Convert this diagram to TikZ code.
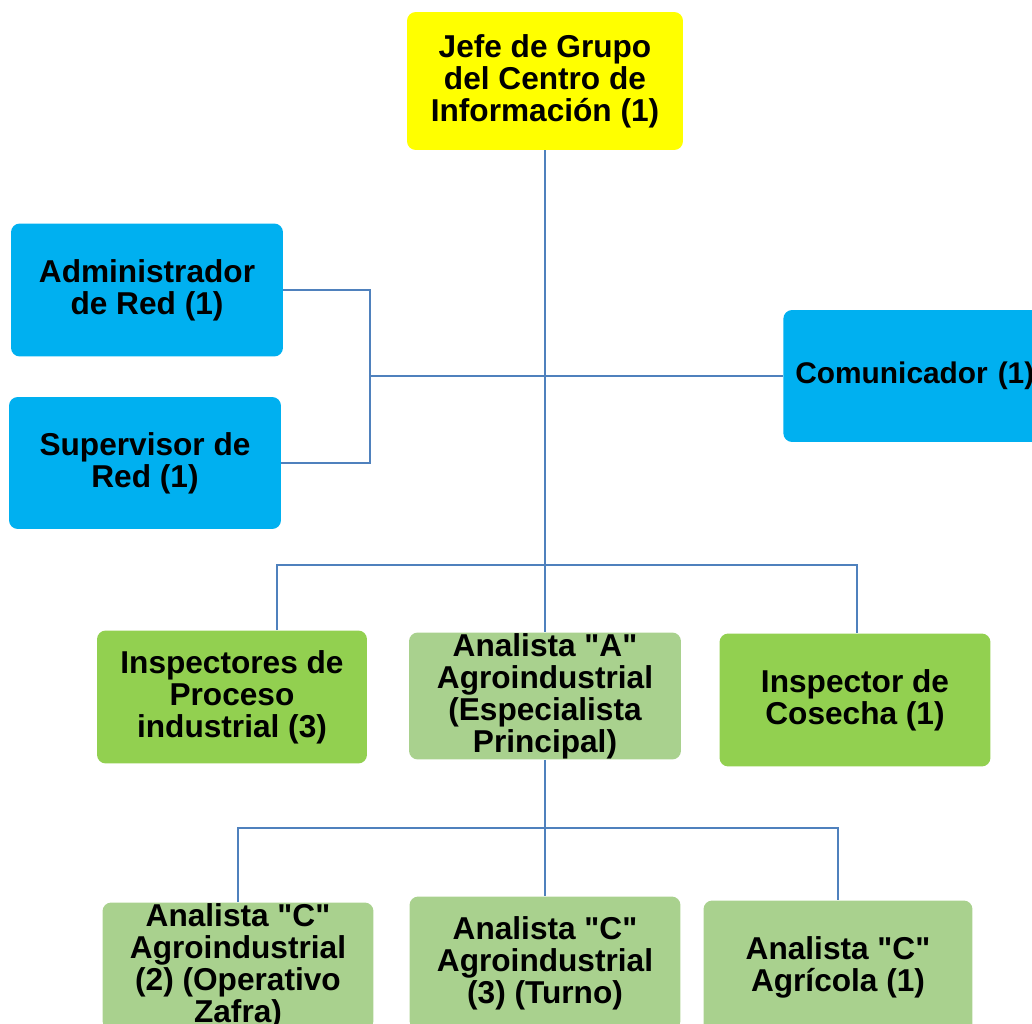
\documentclass[tikz,border=0pt]{standalone}
\usepackage{fontspec}
\setmainfont{Liberation Sans}
\usetikzlibrary{positioning}
\definecolor{jefeyellow}{RGB}{255,255,0}
\definecolor{redblue}{RGB}{0,176,240}
\definecolor{inspgreen}{RGB}{146,208,80}
\definecolor{analgreen}{RGB}{169,209,142}
\definecolor{linkblue}{RGB}{79,129,189}
\newcommand{\qq}[1]{\textquotedbl#1\textquotedbl}

\begin{document}
\begin{tikzpicture}[x=0.02cm, y=-0.02cm,
    box/.style={rounded corners=5pt, align=center, inner sep=0pt,
      minimum width=5.44cm, minimum height=2.66cm,
      font=\bfseries\fontsize{18}{18.2}\selectfont},
    link/.style={draw=linkblue, line width=0.85pt}]
  \useasboundingbox (0,0) rectangle (1032,1024);
  \clip (0,0) rectangle (1032,1024);
  % top
  \node[box, fill=jefeyellow, minimum width=5.52cm, minimum height=2.76cm] (jefe) at (545,81)
    {Jefe de Grupo\\del Centro de\\Información (1)};
  % staff
  \node[box, fill=redblue] (admin) at (147,290) {Administrador\\de Red (1)};
  \node[box, fill=redblue, minimum height=2.64cm] (super) at (145,463) {Supervisor de\\Red (1)};
  \node[box, fill=redblue, minimum height=2.64cm, anchor=west, inner xsep=0.24cm,
        text width=4.96cm, align=left, font=\bfseries\fontsize{17}{18.2}\selectfont]
    (comun) at (783,376) {Comunicador (1)};
  % second level
  \node[box, fill=inspgreen, minimum width=5.4cm] (insp) at (232,697)
    {Inspectores de\\Proceso\\industrial (3)};
  \node[box, fill=analgreen, minimum height=2.54cm] (analA) at (545,696)
    {Analista \qq{A}\\Agroindustrial\\(Especialista\\Principal)};
  \node[box, fill=inspgreen, minimum width=5.42cm] (cosecha) at (855,700)
    {Inspector de\\Cosecha (1)};
  % third level
  \node[box, fill=analgreen, minimum width=5.42cm, minimum height=2.54cm] (analC2) at (238,966)
    {Analista \qq{C}\\Agroindustrial\\(2) (Operativo\\Zafra)};
  \node[box, fill=analgreen, minimum width=5.42cm] (analC3) at (545,963)
    {Analista \qq{C}\\Agroindustrial\\(3) (Turno)};
  \node[box, fill=analgreen, minimum width=5.38cm] (analCA) at (838,967)
    {Analista \qq{C}\\Agrícola (1)};
  % connectors
  \coordinate (mid) at (545,376);
  \coordinate (brk) at (370,376);
  \coordinate (rowA) at (545,565);
  \coordinate (rowC) at (545,828);
  \draw[link] (jefe.south) -- (analA.north);
  \draw[link] (admin.east) -| (brk) -- (mid) -- (comun.west);
  \draw[link] (super.east) -| (brk);
  \draw[link] ([xshift=0.9cm]insp.north) |- (rowA) -| ([xshift=0.04cm]cosecha.north);
  \draw[link] (analA.south) -- (analC3.north);
  \draw[link] (analC2.north) |- (rowC) -| (analCA.north);
\end{tikzpicture}
\end{document}
